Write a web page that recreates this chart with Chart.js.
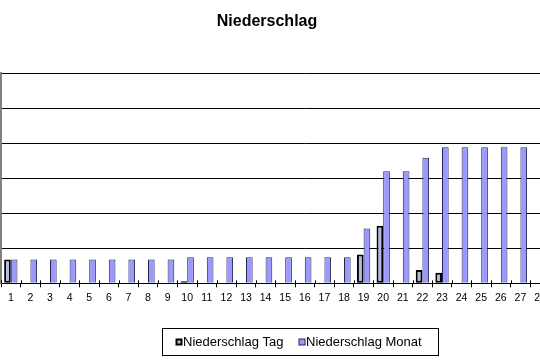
<!DOCTYPE html>
<html><head><meta charset="utf-8">
<script src="https://cdn.jsdelivr.net/npm/chart.js@4"></script>
<style>
html,body{margin:0;padding:0;background:#fff;overflow:hidden;width:540px;height:360px;}
#wrap{position:absolute;left:-70px;top:0;width:680px;height:360px;}
</style></head><body>
<div id="wrap"><canvas id="c" width="680" height="360"></canvas></div>
<script>
const titleText = 'Niederschlag';
const days = ['1','2','3','4','5','6','7','8','9','10','11','12','13','14','15','16','17','18','19','20','21','22','23','24','25','26','27','28','29','30','31'];
const tagValues = [3.4,null,null,null,null,null,null,null,null,0.3,null,null,null,null,null,null,null,null,4.1,8.2,null,1.9,1.5,null,null,null,null,null,null,null,null];
const monatValues = [3.4,3.4,3.4,3.4,3.4,3.4,3.4,3.4,3.4,3.7,3.7,3.7,3.7,3.7,3.7,3.7,3.7,3.7,7.8,16.0,16.0,17.9,19.4,19.4,19.4,19.4,19.4,null,null,null,null];
const yTicks = [0,5,10,15,20,25,30];

const OFF = 70; // canvas x of visible x=0

const overlay = {
  id:'overlay',
  afterDraw(chart){
    const ctx = chart.ctx;
    ctx.save();
    // upward part of crossing tick marks on the category axis
    const xs0 = chart.scales.x, n = chart.data.labels.length;
    ctx.strokeStyle='#000'; ctx.lineWidth=1;
    ctx.beginPath();
    for(let i=0;i<=n;i++){
      const px = Math.round(xs0.left + i*(xs0.right-xs0.left)/n)+0.5;
      ctx.moveTo(px, chart.chartArea.bottom-3); ctx.lineTo(px, chart.chartArea.bottom);
    }
    ctx.stroke();
    // title
    ctx.fillStyle='#000';
    ctx.font='bold 16px "Liberation Sans", Arial, sans-serif';
    ctx.textAlign='center'; ctx.textBaseline='alphabetic';
    ctx.fillText(titleText, OFF+267, 26);
    // legend box
    ctx.strokeStyle='#000'; ctx.lineWidth=1;
    ctx.strokeRect(OFF+162.5, 328.5, 276, 27);
    ctx.font='13px "Liberation Sans", Arial, sans-serif';
    ctx.textAlign='left'; ctx.textBaseline='middle';
    const xs=[176,299];
    chart.data.datasets.forEach((ds,i)=>{
      const x=OFF+xs[i], y=339;
      ctx.fillStyle=ds.backgroundColor;
      ctx.fillRect(x,y,6,6);
      ctx.strokeStyle=ds.borderColor; ctx.lineWidth=ds.borderWidth>1?2:1;
      const h=ctx.lineWidth/2;
      ctx.strokeRect(x+h-0.5,y+h-0.5,6-ctx.lineWidth+1,6-ctx.lineWidth+1);
      ctx.fillStyle='#000';
      ctx.fillText(ds.label, x+7, 342);
    });
    ctx.restore();
  }
};

new Chart(document.getElementById('c'),{
  type:'bar',
  data:{labels:days,datasets:[
    {label:'Niederschlag Tag',data:tagValues,backgroundColor:'#b4b8e6',borderColor:'#000000',borderWidth:2,borderSkipped:false,categoryPercentage:0.68,barPercentage:1},
    {label:'Niederschlag Monat',data:monatValues,backgroundColor:'#9999ff',borderColor:'#26264d',borderWidth:1,borderSkipped:'bottom',categoryPercentage:0.68,barPercentage:1}
  ]},
  options:{
    responsive:false,animation:false,
    layout:{padding:{left:0,right:1.4,top:73,bottom:0}},
    plugins:{legend:{display:false},title:{display:false},tooltip:{enabled:false}},
    scales:{
      x:{
        grid:{drawOnChartArea:false,offset:true,color:'#000',tickLength:4,lineWidth:1},
        border:{color:'#000',width:1},
        ticks:{color:'#000',font:{family:'"Liberation Sans", Arial, sans-serif',size:10.5},padding:5,maxRotation:0,autoSkip:false},
        afterFit(s){s.height=76.7;}
      },
      y:{
        min:0,max:30,
        afterBuildTicks(s){s.ticks=yTicks.map(v=>({value:v}));},
        grid:{color:'#000',lineWidth:1,drawTicks:true,tickLength:4},
        border:{color:'#808080',width:2},
        ticks:{color:'#000',font:{family:'"Liberation Sans", Arial, sans-serif',size:10}},
        afterFit(s){s.width=71;}
      }
    }
  },
  plugins:[overlay]
});
</script></body></html>
